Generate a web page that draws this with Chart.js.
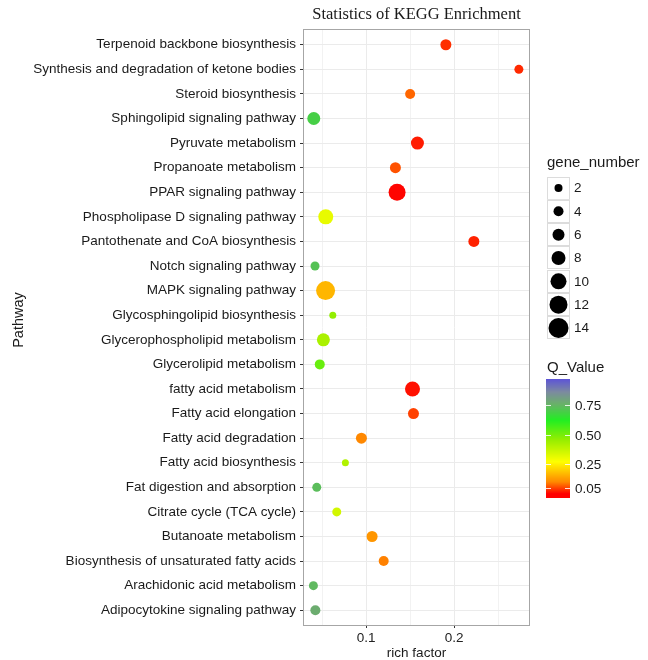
<!DOCTYPE html>
<html>
<head>
<meta charset="utf-8">
<script src="https://cdn.jsdelivr.net/npm/chart.js@4/dist/chart.umd.min.js"></script>
<style>
html,body{margin:0;padding:0;background:#fff;}
canvas{display:block;}
</style>
</head>
<body>
<canvas id="c" width="648" height="660"></canvas>
<script>
const categories = [
  "Terpenoid backbone biosynthesis",
  "Synthesis and degradation of ketone bodies",
  "Steroid biosynthesis",
  "Sphingolipid signaling pathway",
  "Pyruvate metabolism",
  "Propanoate metabolism",
  "PPAR signaling pathway",
  "Phospholipase D signaling pathway",
  "Pantothenate and CoA biosynthesis",
  "Notch signaling pathway",
  "MAPK signaling pathway",
  "Glycosphingolipid biosynthesis",
  "Glycerophospholipid metabolism",
  "Glycerolipid metabolism",
  "fatty acid metabolism",
  "Fatty acid elongation",
  "Fatty acid degradation",
  "Fatty acid biosynthesis",
  "Fat digestion and absorption",
  "Citrate cycle (TCA cycle)",
  "Butanoate metabolism",
  "Biosynthesis of unsaturated fatty acids",
  "Arachidonic acid metabolism",
  "Adipocytokine signaling pathway"
];
const richFactor = [0.1906,0.2735,0.1500,0.0406,0.1583,0.1333,0.1352,0.0542,0.2224,0.0420,0.0540,0.0622,0.0515,0.0474,0.1527,0.1538,0.0947,0.0765,0.0440,0.0667,0.1068,0.1200,0.0402,0.0424];
const geneNumber = [5,3,4,7,7,5,11,9,5,3,13,1,7,4,9,5,5,1,3,3,5,4,3,4];
const qValue = [0.035,0.03,0.075,0.69,0.02,0.06,0.003,0.31,0.025,0.72,0.165,0.46,0.42,0.52,0.012,0.048,0.10,0.41,0.73,0.35,0.12,0.095,0.74,0.77];
const sizeBreaks = [2,4,6,8,10,12,14];
const qBreaks = [0.75,0.50,0.25,0.05];
const xTicks = [0.05,0.1,0.15,0.2,0.25];
const xTickLabels = ["","0.1","","0.2",""];

const colorStops = [
  [0.00,'#ff0000'],[0.10,'#ff8800'],[0.27,'#ffff00'],[0.45,'#99ee00'],
  [0.62,'#22ee22'],[0.76,'#6ab06a'],[0.86,'#7c8aa0'],[0.98,'#5a4fdc']
];
function hex2rgb(h){return [parseInt(h.substr(1,2),16),parseInt(h.substr(3,2),16),parseInt(h.substr(5,2),16)];}
function qColor(v){
  if (v <= colorStops[0][0]) return colorStops[0][1];
  for (let i=1;i<colorStops.length;i++){
    if (v <= colorStops[i][0]){
      const [v0,c0]=colorStops[i-1],[v1,c1]=colorStops[i];
      const t=(v-v0)/(v1-v0), a=hex2rgb(c0), b=hex2rgb(c1);
      const m=a.map((x,k)=>Math.round(x+(b[k]-x)*t));
      return 'rgb('+m.join(',')+')';
    }
  }
  return colorStops[colorStops.length-1][1];
}
function radius(n){return 3+0.5*n;}

const FONT='"Liberation Sans", Arial, sans-serif';
const TXT='#1a1a1a';

const decorations = {
  id:'decorations',
  afterDraw(chart){
    const ctx=chart.ctx, a=chart.chartArea;
    ctx.save();
    // panel border
    ctx.strokeStyle='#a6a6a6'; ctx.lineWidth=1;
    ctx.strokeRect(Math.round(a.left)-0.5, Math.round(a.top)-0.5, Math.round(a.right-a.left)+1, Math.round(a.bottom-a.top)+1);
    // plot title
    ctx.fillStyle=TXT; ctx.textAlign='center'; ctx.textBaseline='middle';
    ctx.font='16.5px "Liberation Serif", "Times New Roman", serif';
    ctx.fillText('Statistics of KEGG Enrichment',(a.left+a.right)/2,15);
    // y title
    ctx.save();
    ctx.translate(19,320); ctx.rotate(-Math.PI/2);
    ctx.font='14.5px '+FONT; ctx.fillText('Pathway',0,0);
    ctx.restore();
    // size legend
    ctx.textAlign='left';
    ctx.font='15px '+FONT; ctx.fillText('gene_number',547,163);
    sizeBreaks.forEach((n,i)=>{
      const cy=188+i*23.33, x0=547;
      ctx.fillStyle='#ffffff'; ctx.fillRect(x0,cy-11.5,23,23);
      ctx.strokeStyle='#dcdcdc'; ctx.strokeRect(x0+0.5,Math.round(cy-11.5)+0.5,22,22);
      ctx.fillStyle='#000'; ctx.beginPath(); ctx.arc(x0+11.5,cy,radius(n),0,Math.PI*2); ctx.fill();
      ctx.fillStyle=TXT; ctx.font='13.5px '+FONT; ctx.fillText(String(n),574,cy+0.5);
    });
    // colour bar
    ctx.font='15px '+FONT; ctx.fillText('Q_Value',547,368);
    const bx=546,bw=24,btop=379,bbot=498;
    const valAt=y=>0.75+(405-y)/118.4;
    for(let y=btop;y<bbot;y++){ctx.fillStyle=qColor(valAt(y+0.5));ctx.fillRect(bx,y,bw,1);}
    ctx.strokeStyle='rgba(255,255,255,0.85)'; ctx.lineWidth=1;
    qBreaks.forEach(q=>{
      const y=Math.round(405-(q-0.75)*118.4)+0.5;
      ctx.beginPath(); ctx.moveTo(bx,y); ctx.lineTo(bx+5,y); ctx.moveTo(bx+bw-5,y); ctx.lineTo(bx+bw,y); ctx.stroke();
      ctx.fillStyle=TXT; ctx.font='13.5px '+FONT; ctx.fillText(q.toFixed(2),575,y+0.5);
    });
    ctx.restore();
  }
};

const points = categories.map((c,i)=>({x:richFactor[i], y:i, r:radius(geneNumber[i])}));
const colors = qValue.map(qColor);
const isLabelled = v => xTicks.some((t,i)=>Math.abs(t-v)<1e-9 && xTickLabels[i]!=='');

new Chart(document.getElementById('c'),{
  type:'bubble',
  data:{datasets:[{data:points, backgroundColor:colors, borderWidth:0, hoverBorderWidth:0}]},
  options:{
    responsive:false, animation:false, devicePixelRatio:1,
    layout:{padding:{top:30,right:119,bottom:0,left:0}},
    plugins:{legend:{display:false},tooltip:{enabled:false}},
    scales:{
      x:{
        type:'linear', position:'bottom', min:0.0295, max:0.285,
        afterBuildTicks(s){s.ticks=xTicks.map(v=>({value:v}));},
        afterFit(s){s.height=35;},
        ticks:{autoSkip:false, padding:2, color:'#222', font:{family:FONT,size:13.5},
          callback:(v)=>{const i=xTicks.findIndex(t=>Math.abs(t-v)<1e-9);return i>=0?xTickLabels[i]:'';}},
        grid:{tickLength:3, lineWidth:1,
          color:ctx=>ctx.tick && isLabelled(ctx.tick.value)?'#ebebeb':'#f2f2f2',
          tickColor:ctx=>ctx.tick && isLabelled(ctx.tick.value)?'#333':'rgba(0,0,0,0)'},
        border:{display:false},
        title:{display:true,text:'rich factor',color:TXT,font:{family:FONT,size:13.5,lineHeight:1.0},padding:{top:0,bottom:0}}
      },
      y:{
        type:'linear', position:'left', reverse:true, min:-0.6, max:23.6,
        afterBuildTicks(s){s.ticks=categories.map((c,i)=>({value:i}));},
        afterFit(s){s.width=304;},
        ticks:{autoSkip:false, padding:4, color:TXT, font:{family:FONT,size:13.5},
          callback:(v)=>categories[v]},
        grid:{tickLength:4, color:'#ebebeb', tickColor:'#333', lineWidth:1},
        border:{display:false}
      }
    }
  },
  plugins:[decorations]
});
</script>
</body>
</html>
